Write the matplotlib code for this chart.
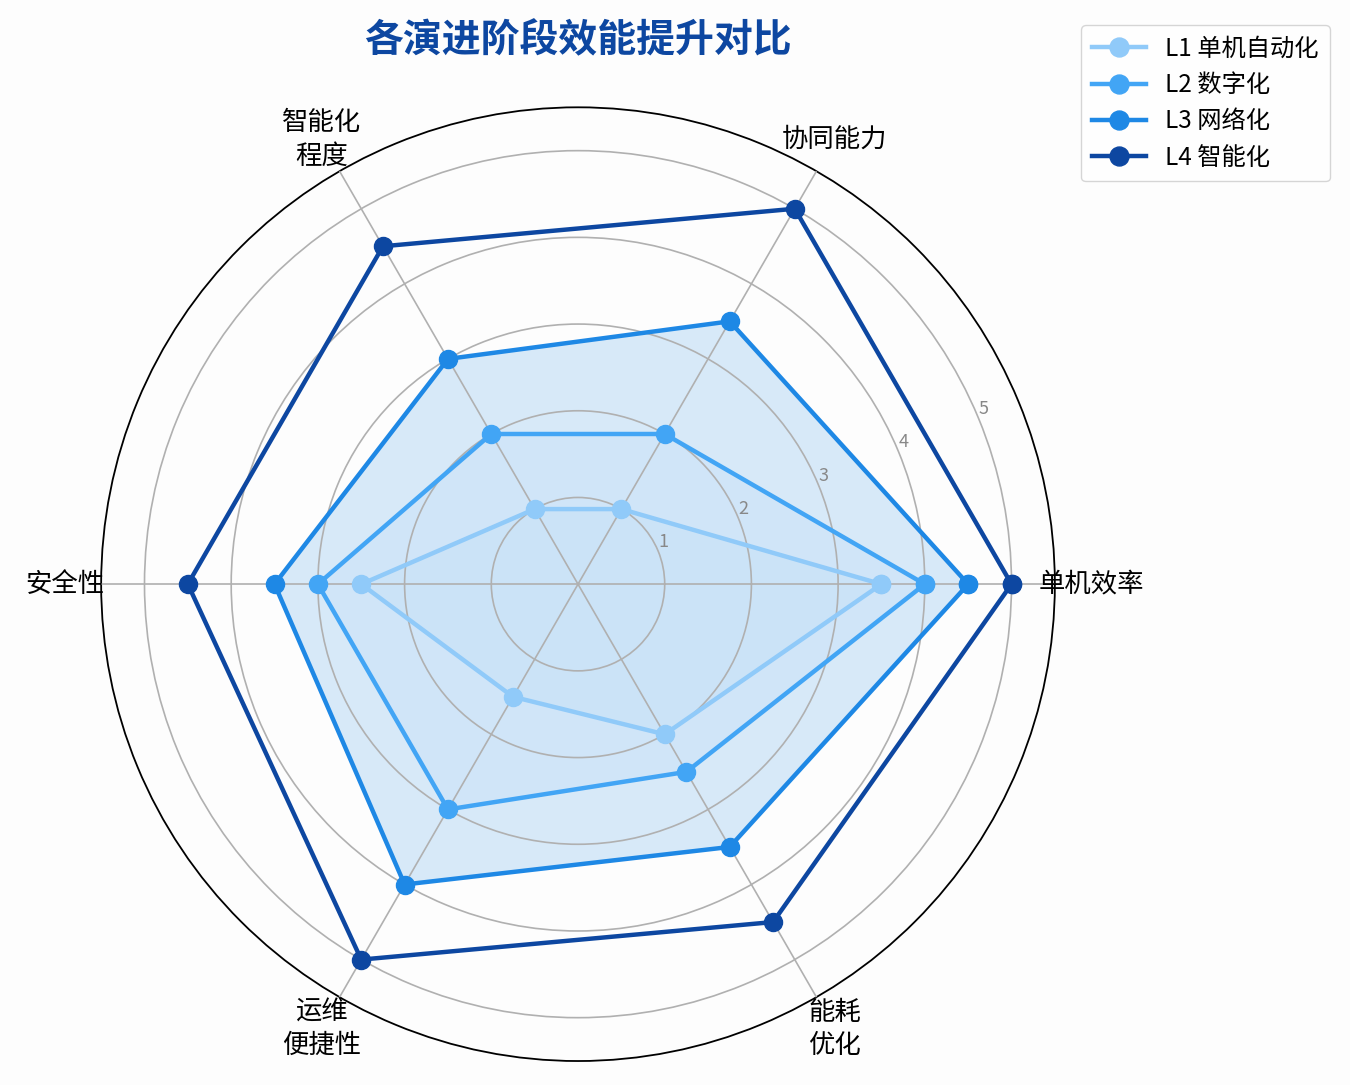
import numpy as np
import matplotlib
matplotlib.use('Agg')
import matplotlib.pyplot as plt

plt.rcParams['font.family'] = ['Noto Sans CJK SC', 'DejaVu Sans']

categories = ['单机效率', '协同能力', '智能化\n程度', '安全性', '运维\n便捷性', '能耗\n优化']
series_names = ['L1 单机自动化', 'L2 数字化', 'L3 网络化', 'L4 智能化']
l1_values = [3.5, 1, 1, 2.5, 1.5, 2]
l2_values = [4, 2, 2, 3, 3, 2.5]
l3_values = [4.5, 3.5, 3, 3.5, 4, 3.5]
l4_values = [5, 5, 4.5, 4.5, 5, 4.5]
r_ticks = [1, 2, 3, 4, 5]

colors = ['#90caf9', '#42a5f5', '#1e88e5', '#0d47a1']
fill_alpha = [0.05, 0.04, 0.17, 0.0]

angles = np.linspace(0, 2 * np.pi, len(categories), endpoint=False)
closed = np.append(angles, angles[0])

fig = plt.figure(figsize=(13.5, 10.85), dpi=100, facecolor='#fdfdfd')
ax = fig.add_axes([0.0748, 0.0221, 0.7067, 0.879], projection='polar')
ax.set_facecolor('#fdfdfd')
ax.set_axisbelow(False)

for name, vals, c, a in zip(series_names, [l1_values, l2_values, l3_values, l4_values],
                            colors, fill_alpha):
    v = np.append(vals, vals[0])
    ax.plot(closed, v, color=c, lw=3.2, marker='o', markersize=13, label=name, zorder=3)
    if a > 0:
        ax.fill(closed, v, color=c, alpha=a, lw=0, zorder=1)

ax.set_ylim(0, 5.5)
ax.set_yticks(r_ticks)
ax.set_yticklabels([str(t) for t in r_ticks], fontsize=13, color='#888888')
ax.set_rlabel_position(22.5)
ax.set_xticks(angles)
ax.set_xticklabels(categories, fontsize=19, linespacing=1.3)
ax.tick_params(axis='x', pad=16)
ax.grid(color='#b0b0b0', lw=1.2)
ax.spines['polar'].set_color('black')
ax.spines['polar'].set_linewidth(1.3)

fig.text(0.428, 0.962, '各演进阶段效能提升对比', fontsize=28, fontweight='bold',
         color='#0d47a1', ha='center', va='center')

fig.legend(loc='upper right', bbox_to_anchor=(0.985, 0.977), borderaxespad=0,
           fontsize=17.5, frameon=True, edgecolor='#cccccc', fancybox=True,
           handlelength=2.2, borderpad=0.45, labelspacing=0.42, markerscale=1.05)

fig.savefig('out.png', dpi=100, facecolor=fig.get_facecolor())
